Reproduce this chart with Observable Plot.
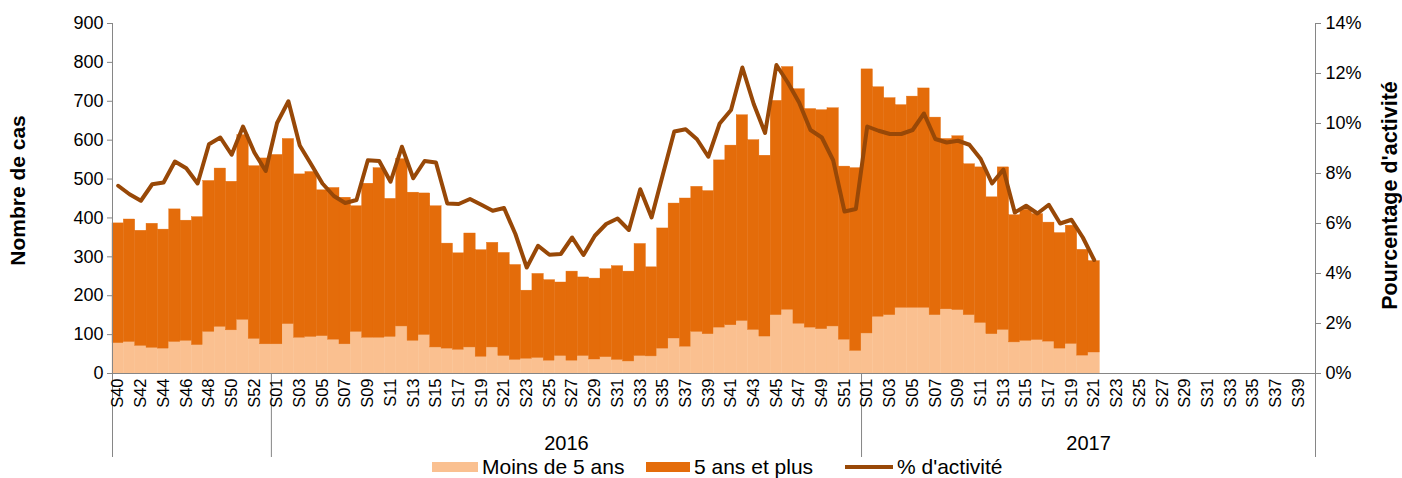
<!DOCTYPE html>
<html>
<head>
<meta charset="utf-8">
<script src="https://cdn.jsdelivr.net/npm/d3@7"></script>
<script src="https://cdn.jsdelivr.net/npm/@observablehq/plot@0.6"></script>
<style>
  html, body { margin: 0; padding: 0; background: #fff; }
  body { font-family: "Liberation Sans", Arial, sans-serif; width: 1402px; height: 478px; overflow: hidden; position: relative; }
  #legend { position: absolute; left: 0; top: 456px; width: 1402px; height: 22px; font-size: 21px; color: #000; }
  .item { position: absolute; top: 0; height: 22px; display: flex; align-items: center; white-space: nowrap; }
  .sw { display: inline-block; }
</style>
</head>
<body>
<div id="chart"></div>
<div id="legend"></div>
<script>
// ---- categories (ISO weeks) ----
const weeks2015 = ["S40","S41","S42","S43","S44","S45","S46","S47","S48","S49","S50","S51","S52","S53"];
const weeks2016 = ["S01","S02","S03","S04","S05","S06","S07","S08","S09","S10","S11","S12","S13","S14","S15","S16","S17","S18","S19","S20","S21","S22","S23","S24","S25","S26","S27","S28","S29","S30","S31","S32","S33","S34","S35","S36","S37","S38","S39","S40","S41","S42","S43","S44","S45","S46","S47","S48","S49","S50","S51","S52"];
const weeks2017 = ["S01","S02","S03","S04","S05","S06","S07","S08","S09","S10","S11","S12","S13","S14","S15","S16","S17","S18","S19","S20","S21","S22","S23","S24","S25","S26","S27","S28","S29","S30","S31","S32","S33","S34","S35","S36","S37","S38","S39","S40"];
const yearLabels = ["", "2016", "2017"];

// ---- series (weeks with data, from 2015-S40 to 2017-S21) ----
const moins5 = [78,81,71,66,64,81,84,73,107,120,111,138,89,75,
  75,127,92,94,96,87,75,107,92,92,94,121,84,99,67,64,61,67,43,67,45,35,38,40,33,45,33,45,36,42,35,31,45,44,64,90,69,107,101,118,124,135,112,95,150,164,128,118,114,121,87,58,
  103,146,150,169,169,169,150,165,163,150,130,101,112,80,84,86,82,64,76,46,54];
const plus5 = [308,315,296,319,306,341,309,329,388,407,382,475,444,478,
  487,476,420,424,375,390,377,323,396,436,355,430,381,364,363,270,248,293,274,269,265,244,175,216,207,189,229,202,208,226,241,231,288,229,309,347,381,373,368,430,462,529,488,465,551,624,603,562,563,561,445,470,
  679,590,558,521,543,564,508,438,447,388,400,352,418,327,337,324,306,297,304,272,235];
const activite = [7.51,7.17,6.91,7.57,7.64,8.48,8.21,7.60,9.17,9.44,8.75,9.88,8.84,8.10,
  10.02,10.89,9.12,8.37,7.60,7.10,6.82,6.94,8.53,8.50,7.67,9.07,7.81,8.50,8.44,6.80,6.78,6.98,6.75,6.51,6.62,5.58,4.24,5.11,4.75,4.78,5.44,4.74,5.51,5.98,6.20,5.74,7.37,6.24,7.97,9.68,9.77,9.37,8.67,10.00,10.54,12.24,10.78,9.62,12.34,11.64,10.84,9.74,9.44,8.53,6.48,6.58,
  9.88,9.71,9.58,9.58,9.74,10.40,9.38,9.24,9.31,9.15,8.58,7.60,8.16,6.44,6.71,6.40,6.75,6.00,6.15,5.44,4.54];

const yTicks = [0,100,200,300,400,500,600,700,800,900];
const pctTicks = [0,2,4,6,8,10,12,14];

const serieNames = ["Moins de 5 ans", "5 ans et plus", "% d'activité"];
const colors = ["#FAC090", "#E46C0A", "#984807"];

// ---- build tables ----
const groups = [["2015", weeks2015], ["2016", weeks2016], ["2017", weeks2017]];
const cats = groups.flatMap(([y, ws]) => ws.map(w => y + "-" + w));
const weekOf = key => key.split("-")[1];
const stackRows = [];
const lineRows = [];
moins5.forEach((v, i) => {
  stackRows.push({key: cats[i], serie: serieNames[0], value: v});
  stackRows.push({key: cats[i], serie: serieNames[1], value: plus5[i]});
  lineRows.push({key: cats[i], pct: activite[i]});
});

const W = 1402, H = 458;
const mL = 112, mR = 87, mT = 23, mB = 85;
const yMax = yTicks[yTicks.length - 1], pMax = pctTicks[pctTicks.length - 1];
const k = yMax / pMax;
const bw = (W - mL - mR) / cats.length;
const pxPerUnit = (H - mB - mT) / yMax;
const ext = 84 / pxPerUnit; // separators of the category axis extend below it
const groupStarts = [];
let acc = 0;
groups.forEach(([y, ws]) => { groupStarts.push(acc); acc += ws.length; });
const tickCats = [];
groups.forEach(([y, ws]) => ws.forEach((w, j) => { if (j % 2 === 0) tickCats.push(y + "-" + w); }));
// label sits on the band left of the group centre, then shifted by half a band
const yearMid = groups.map(([y, ws], g) => ({key: cats[groupStarts[g] + ws.length / 2 - 1], label: yearLabels[g]}));
const axisColor = "#868686";
const font = "Liberation Sans, Arial, sans-serif";

const chart = Plot.plot({
  width: W, height: H,
  marginLeft: mL, marginRight: mR, marginTop: mT, marginBottom: mB,
  style: {fontFamily: font, fontSize: "16px", color: "#000", background: "#fff", overflow: "visible"},
  x: {type: "band", domain: cats, paddingInner: 0, paddingOuter: 0, axis: null},
  y: {domain: [0, yMax], axis: null},
  color: {domain: serieNames.slice(0, 2), range: colors.slice(0, 2)},
  marks: [
    Plot.barY(stackRows, {x: "key", y: "value", fill: "serie", stroke: "serie", strokeWidth: 0.4, order: serieNames.slice(0, 2), inset: 0}),
    Plot.lineY(lineRows, {x: "key", y: d => d.pct * k, stroke: colors[2], strokeWidth: 4, strokeLinejoin: "round", strokeLinecap: "round"}),
    Plot.ruleY([0], {stroke: axisColor, strokeWidth: 1}),
    Plot.ruleX([cats[0]], {y1: -ext, y2: yMax, dx: -bw / 2, stroke: axisColor}),
    Plot.ruleX([cats[cats.length - 1]], {y1: -ext, y2: yMax, dx: bw / 2, stroke: axisColor}),
    Plot.ruleX(groupStarts.slice(1).map(i => cats[i]), {y1: -ext, y2: 0, dx: -bw / 2, stroke: axisColor}),
    Plot.axisY(yTicks, {anchor: "left", tickSize: 5, tickPadding: 4, stroke: axisColor, fontSize: 18, label: null}),
    Plot.axisY(pctTicks.map(p => p * k), {anchor: "right", tickSize: 5, tickPadding: 5, stroke: axisColor, fontSize: 18, label: null, tickFormat: d => Math.round(d / k) + "%"}),
    Plot.axisX(tickCats, {anchor: "bottom", tickRotate: -90, tickSize: 0, tickPadding: 5, fontSize: 16.5, label: null, tickFormat: weekOf}),
    Plot.text(yearMid.filter(d => d.label), {x: "key", text: "label", frameAnchor: "bottom", dx: bw / 2, dy: 70, lineAnchor: "middle", fontSize: 20}),
    Plot.text(["Nombre de cas"], {frameAnchor: "left", dx: -94, dy: -8, rotate: -90, textAnchor: "middle", lineAnchor: "middle", fontWeight: "bold", fontSize: 21}),
    Plot.text(["Pourcentage d'activité"], {frameAnchor: "right", dx: 75, dy: -3, rotate: -90, textAnchor: "middle", lineAnchor: "middle", fontWeight: "bold", fontSize: 21.5})
  ]
});
document.getElementById("chart").appendChild(chart);

// legend
const legend = document.getElementById("legend");
const items = [
  {left: 432, sw: `<span class="sw" style="width:46px;height:10px;background:${colors[0]}"></span>`, text: serieNames[0]},
  {left: 646, sw: `<span class="sw" style="width:44px;height:10px;background:${colors[1]}"></span>`, text: serieNames[1]},
  {left: 845, sw: `<span class="sw" style="width:48px;height:4px;background:${colors[2]}"></span>`, text: serieNames[2]}
];
items.forEach(it => {
  const d = document.createElement("div");
  d.className = "item";
  d.style.left = it.left + "px";
  d.innerHTML = it.sw + `<span style="margin-left:4px">${it.text}</span>`;
  legend.appendChild(d);
});
</script>
</body>
</html>
